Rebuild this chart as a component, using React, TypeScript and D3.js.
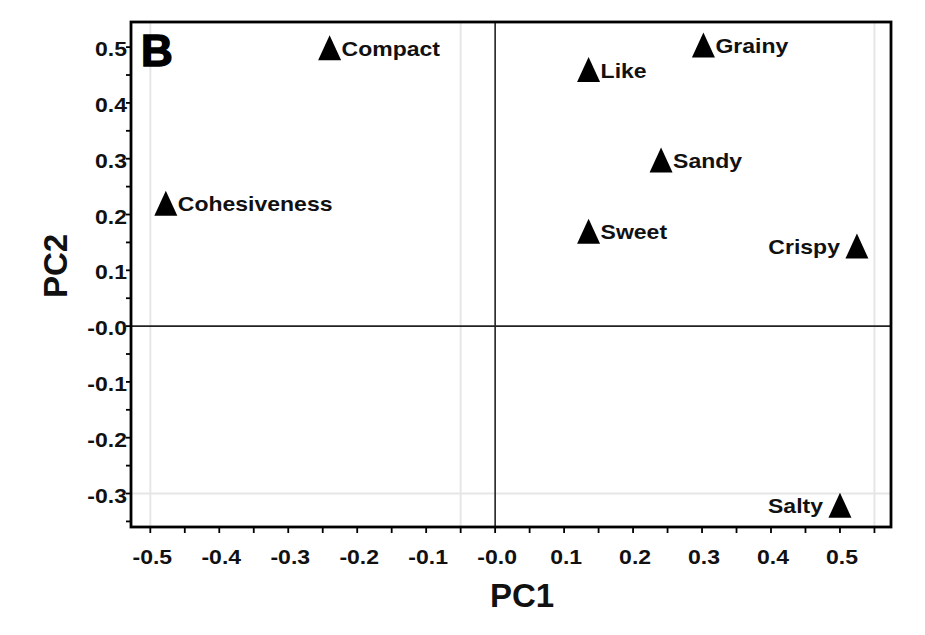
import React from "react";
import * as d3 from "d3";

const labels = ["Compact", "Cohesiveness", "Like", "Grainy", "Sandy", "Sweet", "Crispy", "Salty"];
const pc1 = [-0.24, -0.4775, 0.1355, 0.302, 0.2406, 0.1355, 0.5246, 0.5];
const pc2 = [0.499, 0.2204, 0.4597, 0.5036, 0.2975, 0.17, 0.1434, -0.321];
const labelSide = ["right", "right", "right", "right", "right", "right", "left", "left"];

const xTicks = [-0.5, -0.4, -0.3, -0.2, -0.1, 0, 0.1, 0.2, 0.3, 0.4, 0.5];
const xTickLabels = ["-0.5", "-0.4", "-0.3", "-0.2", "-0.1", "-0.0", "0.1", "0.2", "0.3", "0.4", "0.5"];
const yTicks = [-0.3, -0.2, -0.1, 0, 0.1, 0.2, 0.3, 0.4, 0.5];
const yTickLabels = ["-0.3", "-0.2", "-0.1", "-0.0", "0.1", "0.2", "0.3", "0.4", "0.5"];
const xMinor = [-0.5, -0.45, -0.4, -0.35, -0.3, -0.25, -0.2, -0.15, -0.1, -0.05, 0, 0.05, 0.1, 0.15, 0.2, 0.25, 0.3, 0.35, 0.4, 0.45, 0.5, 0.55];
const yMinor = [-0.35, -0.3, -0.25, -0.2, -0.15, -0.1, -0.05, 0, 0.05, 0.1, 0.15, 0.2, 0.25, 0.3, 0.35, 0.4, 0.45, 0.5];
const gridX = [-0.5, -0.05, 0.55];
const gridY = [-0.3];

const W = 925;
const H = 635;
const L = 131, R = 891, T = 22, B = 527;
const FONT = "'Liberation Sans', Arial, Helvetica, sans-serif";
const STRETCH = 1.15;

export default function App() {
  const x = d3.scaleLinear().domain([-0.528, 0.574]).range([L, R]);
  const y = d3.scaleLinear().domain([-0.36, 0.545]).range([B, T]);
  const tri = (cx: number, cy: number) => {
    const w = 23, h = 25;
    const p = d3.path();
    p.moveTo(cx, cy - h / 2);
    p.lineTo(cx + w / 2, cy + h / 2);
    p.lineTo(cx - w / 2, cy + h / 2);
    p.closePath();
    return p.toString();
  };
  return (
    <svg width={W} height={H} style={{ position: "absolute", left: 0, top: 0, background: "#fff" }} fontFamily={FONT}>
      <rect x={0} y={0} width={W} height={H} fill="#fff" />
      {/* faint grid */}
      {gridX.map((v, i) => (
        <line key={"gx" + i} x1={x(v)} x2={x(v)} y1={T} y2={B} stroke="#e6e6e6" strokeWidth={2} />
      ))}
      {gridY.map((v, i) => (
        <line key={"gy" + i} x1={L} x2={R} y1={y(v)} y2={y(v)} stroke="#e6e6e6" strokeWidth={2} />
      ))}
      {/* zero lines */}
      <line x1={x(0)} x2={x(0)} y1={T} y2={B} stroke="#222" strokeWidth={1.6} />
      <line x1={L} x2={R} y1={y(0)} y2={y(0)} stroke="#222" strokeWidth={1.6} />
      {/* frame */}
      <rect x={L} y={T} width={R - L} height={B - T} fill="none" stroke="#000" strokeWidth={2.8} />
      {/* ticks */}
      {xMinor.map((v, i) => (
        <line key={"xm" + i} x1={x(v)} x2={x(v)} y1={B} y2={B + 6} stroke="#000" strokeWidth={1.8} />
      ))}
      {yMinor.map((v, i) => (
        <line key={"ym" + i} x1={L - 5} x2={L} y1={y(v)} y2={y(v)} stroke="#000" strokeWidth={1.8} />
      ))}
      {xTicks.map((v, i) => (
        <text key={"xt" + i} transform={`translate(${x(v) + 2},${B + 37}) scale(${STRETCH},1)`} textAnchor="middle" fontSize={20} fontWeight="bold" fill="#111">
          {xTickLabels[i]}
        </text>
      ))}
      {yTicks.map((v, i) => (
        <text key={"yt" + i} transform={`translate(${L - 4},${y(v) + 9}) scale(${STRETCH},1)`} textAnchor="end" fontSize={20} fontWeight="bold" fill="#111">
          {yTickLabels[i]}
        </text>
      ))}
      {/* axis titles */}
      <text x={522} y={607} textAnchor="middle" fontSize={33} fontWeight="bold" fill="#111">PC1</text>
      <text transform={`translate(67,266) rotate(-90)`} textAnchor="middle" fontSize={33} fontWeight="bold" fill="#111">PC2</text>
      {/* panel letter */}
      <text x={141} y={66} fontSize={44} fontWeight={900} fill="#000" stroke="#000" strokeWidth={1.5}>B</text>
      {/* points */}
      {labels.map((lab, i) => {
        const cx = x(pc1[i]);
        const cy = y(pc2[i]);
        const right = labelSide[i] === "right";
        const tx = right ? cx + 12 : cx - 17;
        return (
          <g key={lab}>
            <path d={tri(cx, cy)} fill="#000" />
            <text transform={`translate(${tx},${cy + 8}) scale(${STRETCH},1)`} textAnchor={right ? "start" : "end"} fontSize={20} fontWeight="bold" fill="#111">
              {lab}
            </text>
          </g>
        );
      })}
    </svg>
  );
}
